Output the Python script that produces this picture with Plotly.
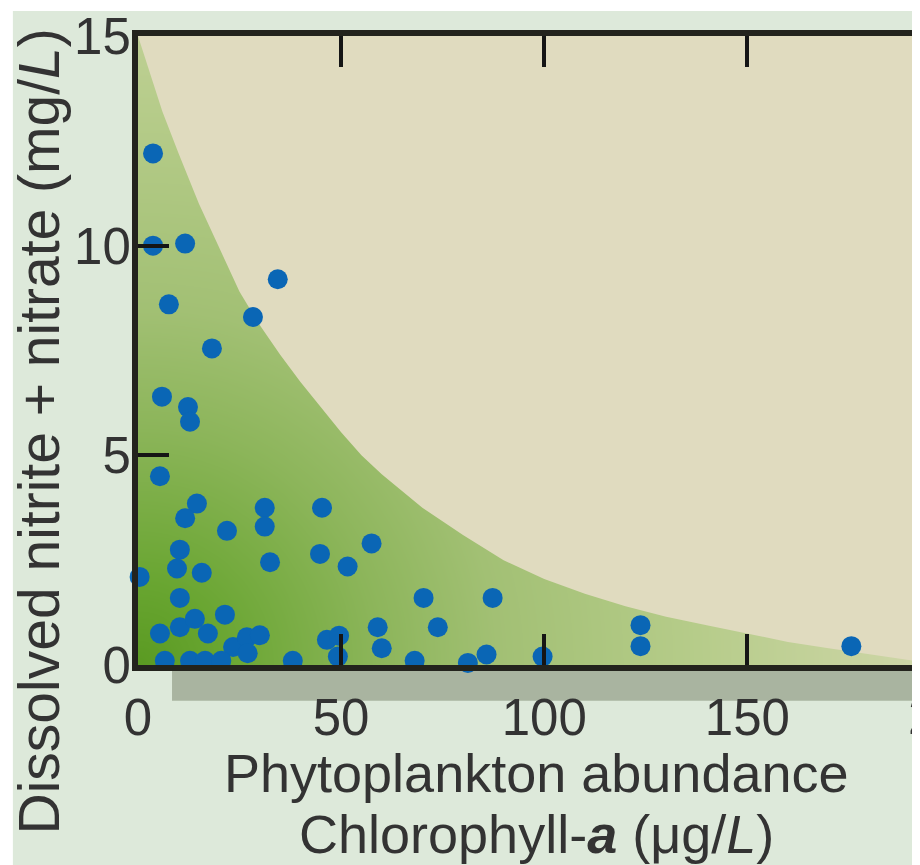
import numpy as np
import plotly.graph_objects as go

# Chlorophyll-a (ug/L) vs dissolved nitrite + nitrate (mg/L)
chl_a = [3.7, 3.7, 11.6, 34.4, 7.6, 28.3, 18.2, 5.9, 12.3, 12.8,
         5.4, 14.5, 11.6, 21.9, 31.2, 31.2, 45.3, 10.3, 9.6, 15.7,
         32.5, 44.8, 57.5, 51.6, 0.4, 10.3, 10.3, 14.0, 17.2, 5.4,
         21.4, 23.4, 26.8, 30.0, 27.0, 6.6, 12.8, 16.5, 20.5, 38.1,
         46.5, 49.5, 49.2, 70.3, 87.3, 73.8, 59.0, 60.0, 68.1, 81.2,
         85.8, 99.6, 123.7, 123.7, 175.6]
nitrate = [12.2, 10.0, 10.05, 9.2, 8.6, 8.3, 7.55, 6.4, 6.15, 5.8,
           4.5, 3.85, 3.5, 3.2, 3.75, 3.3, 3.75, 2.75, 2.3, 2.2,
           2.45, 2.65, 2.9, 2.35, 2.1, 1.6, 0.9, 1.1, 0.75, 0.75,
           1.2, 0.43, 0.66, 0.71, 0.28, 0.1, 0.1, 0.1, 0.1, 0.1,
           0.6, 0.7, 0.2, 1.6, 1.6, 0.9, 0.9, 0.4, 0.1, 0.05,
           0.25, 0.2, 0.95, 0.45, 0.45]

# upper envelope of the green zone
edge_x = [0, 3, 6, 10, 15, 20, 25, 30, 35, 40, 45, 50, 55, 60, 65, 70,
          80, 90, 100, 110, 120, 130, 140, 150, 160, 170, 180, 192.5]
edge_y = [15, 14.1, 13.2, 12.2, 11.0, 9.95, 8.9, 8.1, 7.4, 6.75, 6.15, 5.55, 5.0, 4.55, 4.15, 3.75,
          3.1, 2.5, 2.05, 1.7, 1.4, 1.15, 0.95, 0.75, 0.55, 0.4, 0.25, 0.08]

x_ticks = [0, 50, 100, 150]
y_ticks = [0, 5, 10, 15]

X_MAX, Y_MAX = 192.5, 15
FONT = "Liberation Sans, Arial, sans-serif"
TEXT = "#333333"
AXIS = "#23231d"
DOT = "#0a66b5"
BEIGE = "#e0dbbf"
PANEL = "#dde9da"

# radial green shading (pixel distance from the origin), background only
gx = np.linspace(0, X_MAX, 160)
gy = np.linspace(0, Y_MAX, 100)
GX, GY = np.meshgrid(gx, gy)
shade = np.hypot(GX * 782 / X_MAX, GY * 632 / Y_MAX)

fig = go.Figure()

fig.add_trace(go.Heatmap(
    x=gx, y=gy, z=shade, zmin=0, zmax=800, zsmooth="best", showscale=False, hoverinfo="skip",
    colorscale=[[0, "#5a9a22"], [0.1, "#68a530"], [0.3, "#8cb55a"], [0.45, "#a2c074"],
                [0.7, "#b6cc8a"], [1, "#d0d7aa"]],
))

# beige area above the envelope
fig.add_trace(go.Scatter(
    x=edge_x + [X_MAX, 0], y=edge_y + [Y_MAX, Y_MAX], mode="lines", fill="toself",
    fillcolor=BEIGE, line=dict(width=0, color=BEIGE), hoverinfo="skip", showlegend=False,
))

fig.add_trace(go.Scatter(
    x=chl_a, y=nitrate, mode="markers", cliponaxis=False, showlegend=False,
    marker=dict(size=20, color=DOT, line=dict(width=0)),
))

axis_common = dict(
    showgrid=False, zeroline=False, showline=True, linewidth=6, linecolor=AXIS,
    ticks="inside", ticklen=31, tickwidth=4, tickcolor="#151515",
    tickfont=dict(family=FONT, size=51, color=TEXT), ticklabeloverflow="allow",
)

# the page body adds an 8px offset, so the figure is 8px smaller than the window
fig.update_layout(
    width=912, height=857,
    margin=dict(l=130, r=0, t=25, b=200),
    paper_bgcolor="white", plot_bgcolor=BEIGE,
    font=dict(family=FONT, color=TEXT),
    showlegend=False,
    xaxis=dict(**axis_common, range=[0, X_MAX], tickvals=x_ticks, mirror="ticks", ticklabelstandoff=3),
    yaxis=dict(**axis_common, range=[0, Y_MAX], tickvals=y_ticks, ticklabelstandoff=-9),
    shapes=[
        # light green figure panel
        dict(type="rect", xref="paper", yref="paper", x0=-0.16, x1=1.0, y0=-0.32, y1=1.0396,
             fillcolor=PANEL, line_width=0, layer="below"),
        # grey shadow under the x axis
        dict(type="rect", xref="paper", yref="paper", x0=0.0435, x1=1.0, y0=-0.057, y1=-0.006,
             fillcolor="#a9b4a0", line_width=0, layer="below"),
    ],
    annotations=[
        dict(text="200", xref="paper", yref="paper", x=1.0396, y=-0.0823, showarrow=False,
             xanchor="center", yanchor="middle", font=dict(size=51, color=TEXT, family=FONT)),
        dict(text="Phytoplankton abundance", xref="paper", yref="paper", x=0.51, y=-0.171,
             showarrow=False, xanchor="center", yanchor="middle", font=dict(size=54, color=TEXT, family=FONT)),
        dict(text="Chlorophyll-<b><i>a</i></b> (μg/<i>L</i>)", xref="paper", yref="paper", x=0.51, y=-0.269,
             showarrow=False, xanchor="center", yanchor="middle", font=dict(size=54, color=TEXT, family=FONT)),
        dict(text="Dissolved nitrite + nitrate (mg/<i>L</i>)", xref="paper", yref="paper", x=-0.126, y=0.372,
             textangle=-90, showarrow=False, xanchor="center", yanchor="middle",
             font=dict(size=57, color=TEXT, family=FONT)),
    ],
)

fig.write_html("out.html")
